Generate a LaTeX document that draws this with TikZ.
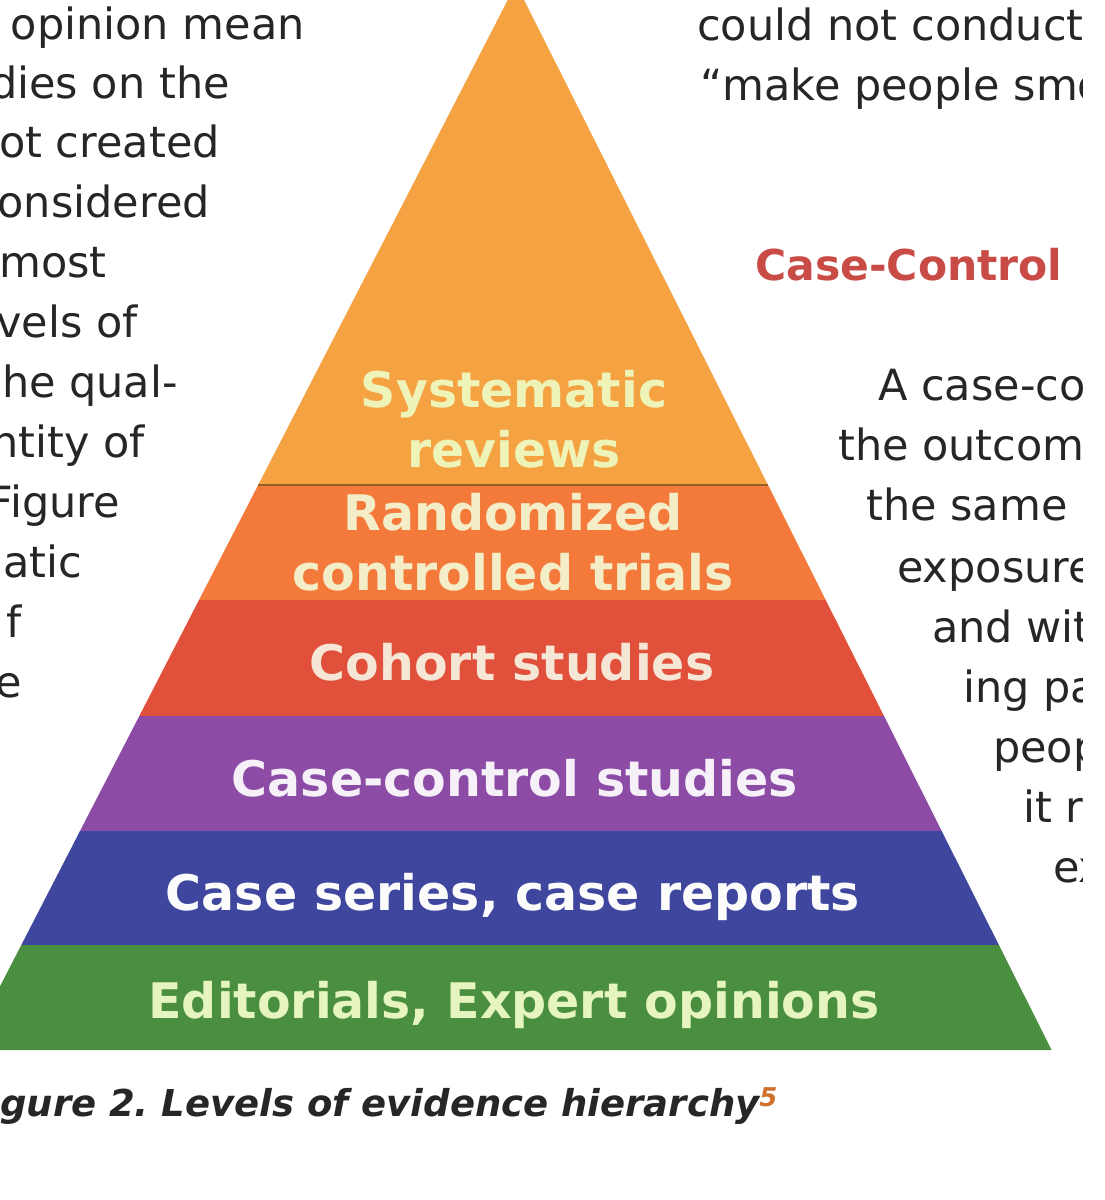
\documentclass[tikz,border=0pt]{standalone}
\usepackage{fontspec}
\setmainfont{DejaVu Sans}
\definecolor{cA}{HTML}{F5A242}
\definecolor{cB}{HTML}{F47A3C}
\definecolor{cC}{HTML}{E1503A}
\definecolor{cD}{HTML}{8C4CA6}
\definecolor{cE}{HTML}{3F469E}
\definecolor{cF}{HTML}{4A8E3F}
\definecolor{tA}{HTML}{EEF3B8}
\definecolor{tB}{HTML}{F4EEC8}
\definecolor{tC}{HTML}{F6E6D6}
\definecolor{tD}{HTML}{F6F0F8}
\definecolor{tE}{HTML}{FCFCFC}
\definecolor{tF}{HTML}{E6F5C0}
\definecolor{txt}{HTML}{262626}
\definecolor{redh}{HTML}{C94B45}
\definecolor{supc}{HTML}{D0702A}
\begin{document}
\begin{tikzpicture}[x=1pt,y=-1pt,
  lab/.style={font=\fontsize{49}{60}\selectfont\bfseries, align=center, inner sep=0pt},
  sidel/.style={font=\fontsize{43}{60}\selectfont, text=txt, inner sep=0pt, anchor=base east},
  sider/.style={font=\fontsize{43}{60}\selectfont, text=txt, inner sep=0pt, anchor=base west}]
\useasboundingbox (0,0) rectangle (1104,1200);
\fill[white] (0,0) rectangle (1104,1200);
\begin{scope}
\clip (0,0) rectangle (1082,1200);
% pyramid bands
\fill[cA] (516,-16) -- (768,485) -- (258.2,485) -- cycle;
\fill[cB] (258.2,485) -- (768,485) -- (825.7,600) -- (199,600) -- cycle;
\fill[cC] (199,600) -- (825.7,600) -- (884,716) -- (139.3,716) -- cycle;
\fill[cD] (139.3,716) -- (884,716) -- (941.7,831) -- (80,831) -- cycle;
\fill[cE] (80,831) -- (941.7,831) -- (998.9,945) -- (21.3,945) -- cycle;
\fill[cF] (21.3,945) -- (998.9,945) -- (1051.6,1050) -- (-32.8,1050) -- cycle;
\draw[line width=1.5pt, color=cA!60!black] (258.2,485) -- (768,485);
% labels
\node[lab, text=tA] (sys) at (514,419) {Systematic\\reviews};
\node[lab, text=tB] (rct) at (513,542) {Randomized\\controlled trials};
\node[lab, text=tC, anchor=base] (coh) at (512,680) {Cohort studies};
\node[lab, text=tD, anchor=base] (cc) at (515,796) {Case-control studies};
\node[lab, text=tE, anchor=base] (cs) at (513,910) {Case series, case reports};
\node[lab, text=tF, anchor=base] (ed) at (514,1018) {Editorials, Expert opinions};
% left column text
\node[sidel] (l1) at (305,39) {opinion mean};
\node[sidel] (l2) at (230,98) {dies on the};
\node[sidel] (l3) at (220,157) {ot created};
\node[sidel] (l4) at (210,217) {onsidered};
\node[sidel] (l5) at (107,277) {most};
\node[sidel] (l6) at (138,337) {vels of};
\node[sidel] (l7) at (178,397) {he qual-};
\node[sidel] (l8) at (145,457) {ntity of};
\node[sidel] (l9) at (120,517) {Figure};
\node[sidel] (l10) at (82,577) {atic};
\node[sidel] (l11) at (22,637) {f};
\node[sidel] (l12) at (22,697) {e};
% right column text
\node[sider] (r1) at (697,40) {could not conduct};
\node[sider] (r2) at (700,100) {“make people smo};
\node[sider, text=redh, font=\fontsize{42.5}{60}\selectfont\bfseries] (r3) at (755,280) {Case-Control\hspace{4pt} Studies};
\node[sider] (r4) at (878,400) {A case-co};
\node[sider] (r5) at (838,460) {the outcom};
\node[sider] (r6) at (866,520) {the same};
\node[sider] (r7) at (897,582) {exposure};
\node[sider] (r8) at (932,642) {and wit};
\node[sider] (r9) at (963,702) {ing pa};
\node[sider] (r10) at (993,762) {peop};
\node[sider] (r11) at (1023,822) {it r};
\node[sider] (r12) at (1053,882) {ex};
% caption
\node[anchor=base west, inner sep=0pt, text=txt, font=\fontsize{37}{44}\selectfont\bfseries\itshape] (cap) at (0,1116) {gure 2.\ Levels of evidence hierarchy\textsuperscript{\color{supc}5}};
\end{scope}
\end{tikzpicture}
\end{document}
